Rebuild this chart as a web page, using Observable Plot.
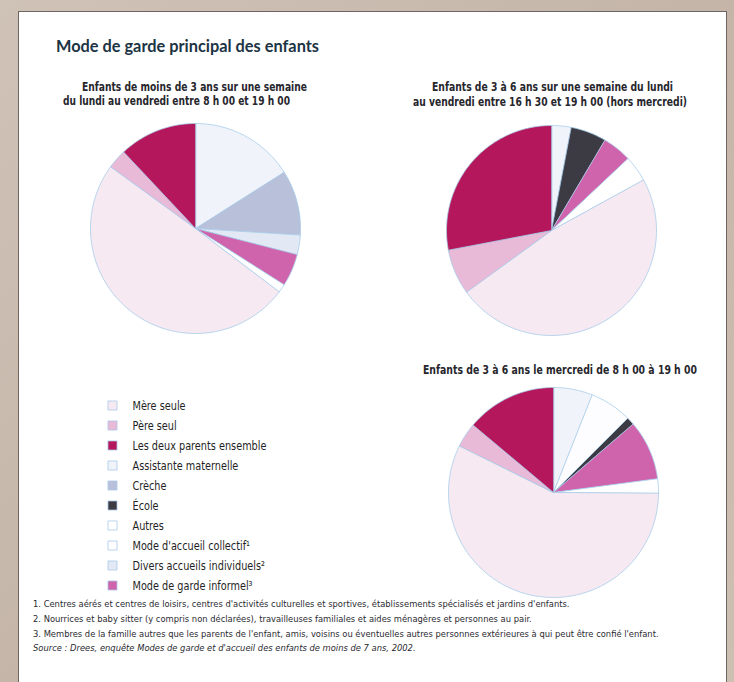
<!DOCTYPE html>
<html lang="fr">
<head>
<meta charset="utf-8">
<script src="https://cdn.jsdelivr.net/npm/d3@7"></script>
<script src="https://cdn.jsdelivr.net/npm/@observablehq/plot@0.6"></script>
<style>
  html, body { margin: 0; padding: 0; }
  body { width: 734px; height: 682px; overflow: hidden; background: #cabcaf; }
  #root { position: relative; width: 734px; height: 682px; overflow: hidden;
          background: linear-gradient(135deg, #cfc2b6, #c4b5a8 50%, #cdbfb2); }
  #panel { position: absolute; left: 18px; top: 11px; width: 709px; height: 700px;
           background: #fff; border: 1px solid #6e6460; box-sizing: border-box; }
  .abs { position: absolute; white-space: nowrap; }
  #title { font-family: Lato, "Open Sans", sans-serif; font-weight: 700; font-size: 17.5px;
           color: #1c3444; left: 56px; top: 35px; }
  .sub { font-family: "DejaVu Sans Condensed", "DejaVu Sans", sans-serif;
         font-stretch: condensed; font-weight: 700; font-size: 11.5px; color: #26262c; line-height: 14px; }
  .note { font-family: "DejaVu Sans Condensed", "DejaVu Sans", sans-serif;
          font-stretch: condensed; font-size: 9.3px; color: #2a2a30; left: 33px; }
  .pie { position: absolute; }
</style>
</head>
<body>
<div id="root">
  <div id="panel"></div>
  <div id="title" class="abs fit" data-w="263">Mode de garde principal des enfants</div>
  <div class="abs sub fit" data-w="225" style="left:82px; top:80px;">Enfants de moins de 3 ans sur une semaine</div>
  <div class="abs sub fit" data-w="227" style="left:63px; top:94px;">du lundi au vendredi entre 8 h 00 et 19 h 00</div>
  <div class="abs sub fit" data-w="241" style="left:432px; top:80px;">Enfants de 3 à 6 ans sur une semaine du lundi</div>
  <div class="abs sub fit" data-w="274" style="left:413px; top:95px;">au vendredi entre 16 h 30 et 19 h 00 (hors mercredi)</div>
  <div class="abs sub fit" data-w="274" style="left:423px; top:363px;">Enfants de 3 à 6 ans le mercredi de 8 h 00 à 19 h 00</div>
  <div id="pie1" class="pie"></div>
  <div id="pie2" class="pie"></div>
  <div id="pie3" class="pie"></div>
  <div id="legend" class="pie"></div>
  <div class="abs note" style="top:598px;">1. Centres aérés et centres de loisirs, centres d'activités culturelles et sportives, établissements spécialisés et jardins d'enfants.</div>
  <div class="abs note" style="top:613px;">2. Nourrices et baby sitter (y compris non déclarées), travailleuses familiales et aides ménagères et personnes au pair.</div>
  <div class="abs note" style="top:628px;">3. Membres de la famille autres que les parents de l'enfant, amis, voisins ou éventuelles autres personnes extérieures à qui peut être confié l'enfant.</div>
  <div class="abs note" style="top:642px; font-style: italic;">Source : Drees, enquête Modes de garde et d'accueil des enfants de moins de 7 ans, 2002.</div>
</div>
<script>
// ---- Data ----
const categories = [
  "Mère seule",
  "Père seul",
  "Les deux parents ensemble",
  "Assistante maternelle",
  "Crèche",
  "École",
  "Autres",
  "Mode d'accueil collectif¹",
  "Divers accueils individuels²",
  "Mode de garde informel³"
];
const categoryColors = [
  "#f6e9f2", "#e8bad7", "#b5175c", "#f1f3fa", "#b9c1da",
  "#3c3a43", "#ffffff", "#fdfdff", "#e3e9f4", "#d064ac"
];

// Enfants de moins de 3 ans, lundi-vendredi 8h-19h (sens horaire depuis midi)
const pie1Categories = ["Assistante maternelle", "Crèche", "Divers accueils individuels²", "Mode de garde informel³", "Autres", "Mère seule", "Père seul", "Les deux parents ensemble"];
const pie1Values = [16, 10, 3, 5, 1.3, 49.7, 3, 12];

// Enfants de 3 à 6 ans, lundi-vendredi 16h30-19h (hors mercredi)
const pie2Categories = ["Assistante maternelle", "École", "Mode de garde informel³", "Autres", "Mère seule", "Père seul", "Les deux parents ensemble"];
const pie2Values = [3, 5.5, 4.5, 4, 48, 7, 28];

// Enfants de 3 à 6 ans, mercredi 8h-19h
const pie3Categories = ["Assistante maternelle", "Mode d'accueil collectif¹", "École", "Mode de garde informel³", "Autres", "Mère seule", "Père seul", "Les deux parents ensemble"];
const pie3Values = [6, 6.5, 1.2, 9.2, 2.2, 57.2, 3.8, 13.9];

// ---- Helpers ----
const colorScale = {type: "ordinal", domain: categories, range: categoryColors};

function wedgePoints(cats, vals) {
  const arcs = d3.pie().sort(null).value(d => d.value)(cats.map((c, i) => ({category: c, value: vals[i]})));
  const pts = [];
  arcs.forEach((a, i) => {
    const key = i;
    pts.push({key, category: a.data.category, x: 0, y: 0});
    const n = Math.max(2, Math.ceil((a.endAngle - a.startAngle) / (Math.PI / 180)));
    for (let k = 0; k <= n; k++) {
      const t = a.startAngle + (a.endAngle - a.startAngle) * k / n;
      pts.push({key, category: a.data.category, x: Math.sin(t), y: Math.cos(t)});
    }
  });
  return pts;
}

function pieChart(cats, vals) {
  const size = 214;
  return Plot.plot({
    width: size, height: size, margin: 2,
    x: {domain: [-1, 1], axis: null},
    y: {domain: [-1, 1], axis: null},
    color: colorScale,
    marks: [
      Plot.line(wedgePoints(cats, vals), {
        x: "x", y: "y", z: "key", fill: "category",
        stroke: "#a6cbea", strokeWidth: 0.8, curve: "linear-closed"
      })
    ]
  });
}

function place(id, node, cx, cy) {
  const el = document.getElementById(id);
  el.style.left = (cx - 107) + "px";
  el.style.top = (cy - 107) + "px";
  el.appendChild(node);
}

place("pie1", pieChart(pie1Categories, pie1Values), 195, 228);
place("pie2", pieChart(pie2Categories, pie2Values), 551, 230);
place("pie3", pieChart(pie3Categories, pie3Values), 553, 492);

// ---- Legend ----
const legend = Plot.plot({
  width: 250, height: 205, margin: 0,
  x: {domain: [0, 1], axis: null},
  y: {type: "point", domain: categories, range: [10, 194], padding: 0, axis: null},
  color: colorScale,
  style: {fontFamily: "'DejaVu Sans Condensed', 'DejaVu Sans', sans-serif", fontSize: "12.5px", background: "transparent", overflow: "visible"},
  marks: [
    Plot.dot(categories, {frameAnchor: "left", dx: 6, y: d => d, symbol: "square", r: 5.1,
      fill: d => d, stroke: "#a9c8e6", strokeWidth: 0.8}),
    Plot.text(categories, {frameAnchor: "left", dx: 26, y: d => d, text: d => d,
      textAnchor: "start", fill: "#1f1f25", fontSize: 12.5})
  ]
});
const lg = document.getElementById("legend");
lg.style.left = "106px";
lg.style.top = "393px";
lg.appendChild(legend);
// condense the legend labels horizontally (anchor stays in place)
legend.querySelectorAll('g[aria-label="text"] text').forEach(t => {
  const tr = t.getAttribute("transform") || "";
  if (tr) {
    t.setAttribute("transform", tr + " scale(0.865,1)");
  } else {
    const x = +t.getAttribute("x") || 0, y = +t.getAttribute("y") || 0;
    t.setAttribute("transform", `translate(${x},${y}) scale(0.865,1) translate(${-x},${-y})`);
  }
});

// fit condensed header lines to their measured widths in the reference
document.querySelectorAll(".fit").forEach(el => {
  const w = el.getBoundingClientRect().width;
  const target = +el.dataset.w;
  el.style.transformOrigin = "0 50%";
  el.style.transform = `scaleX(${target / w})`;
});
</script>
</body>
</html>
